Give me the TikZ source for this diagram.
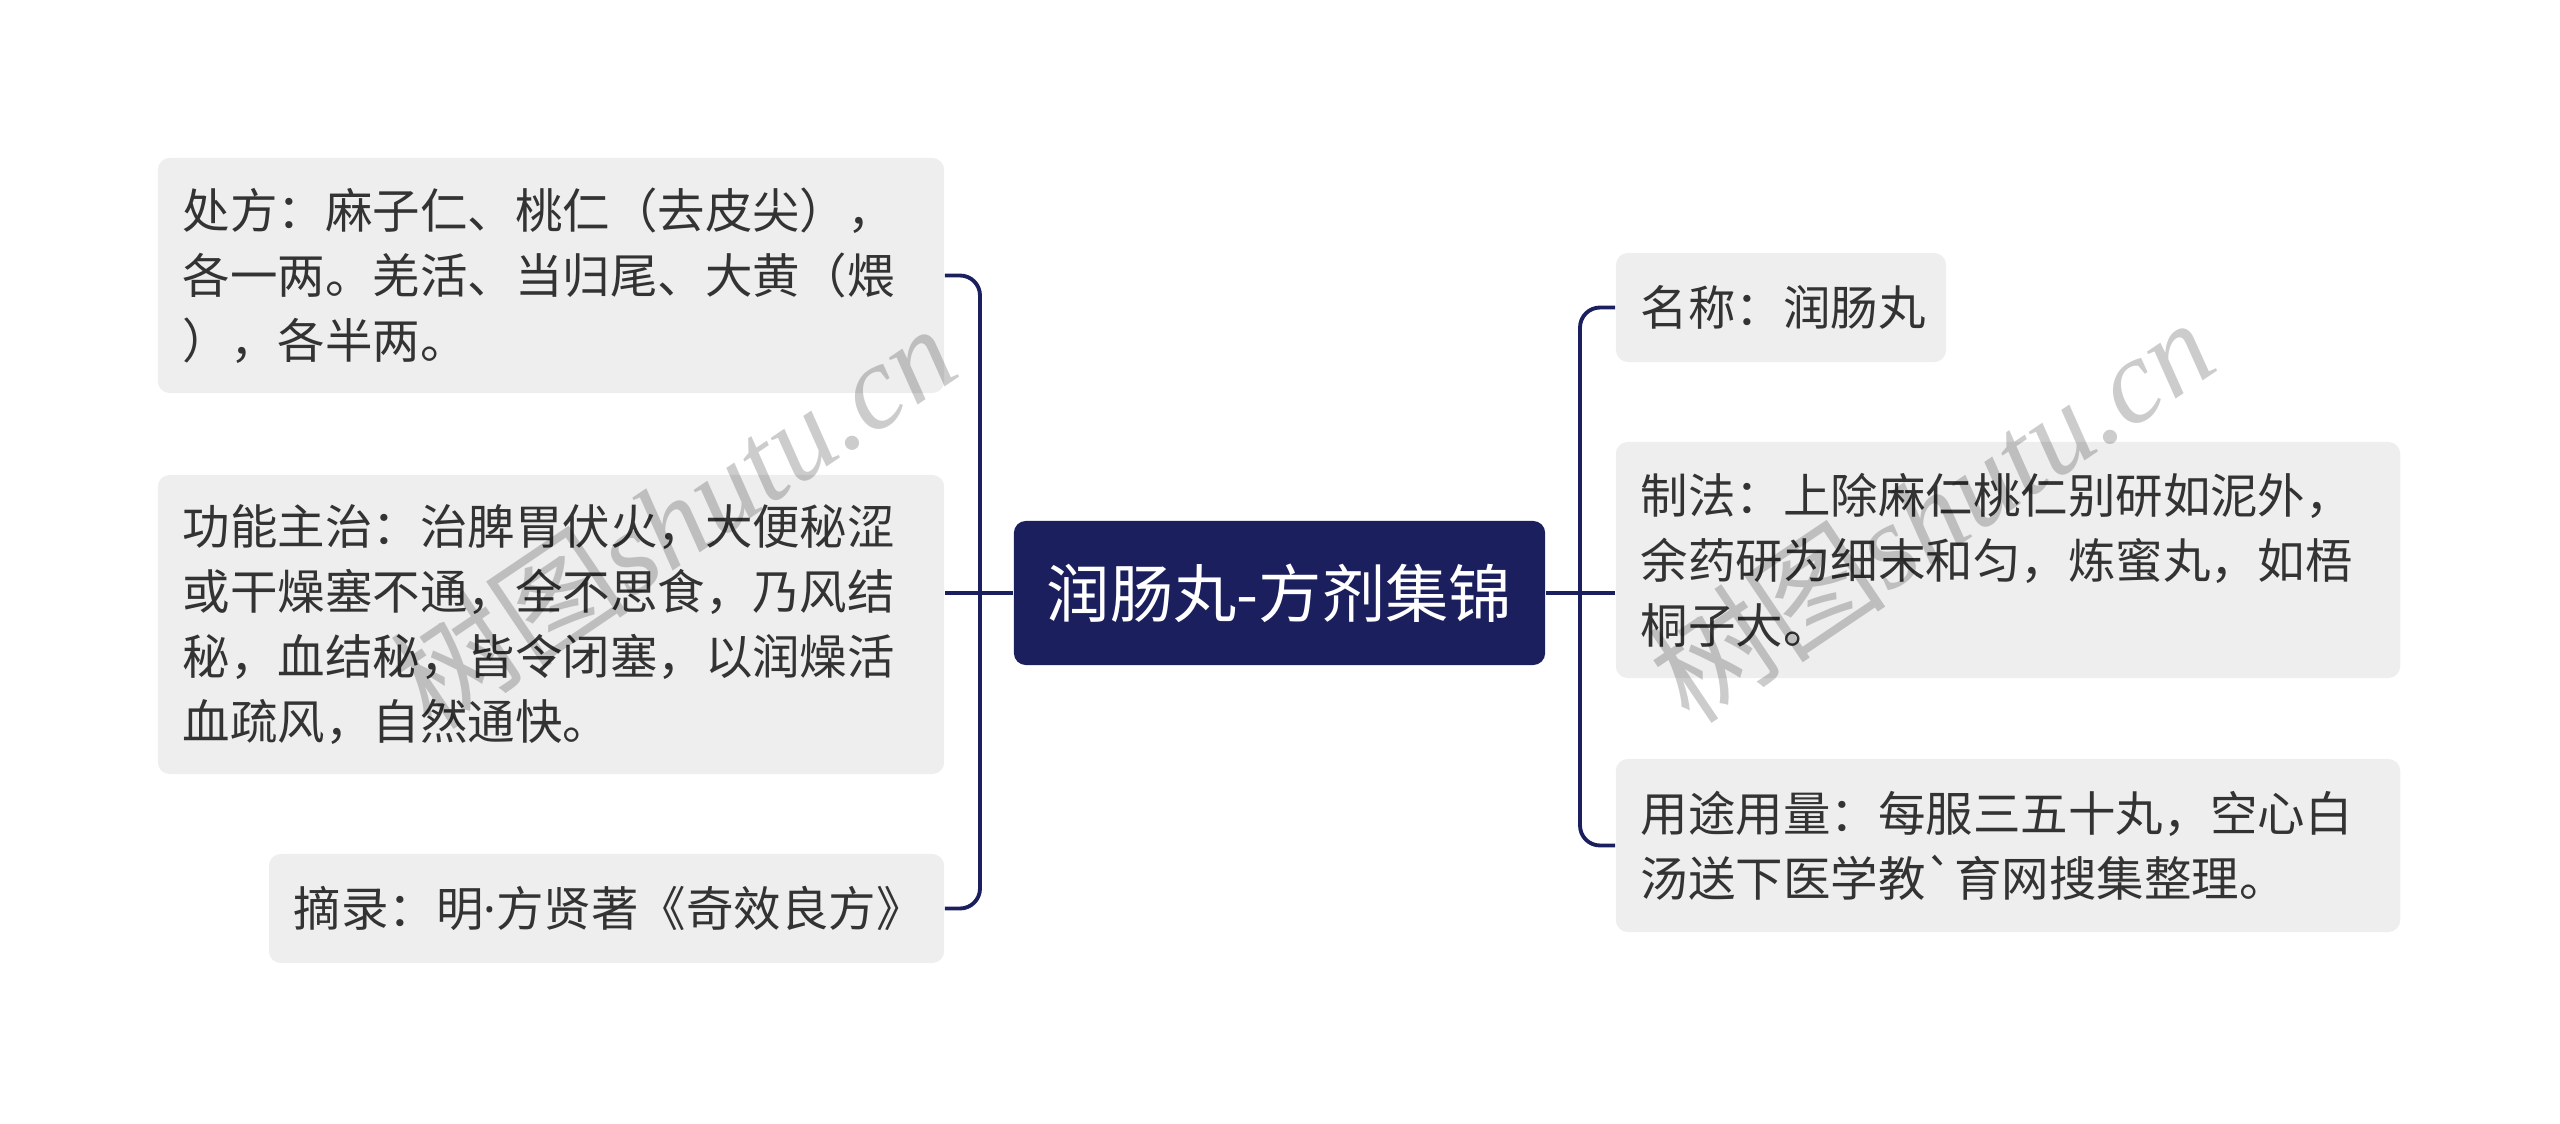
\documentclass[tikz,border=0pt]{standalone}
\usepackage{fontspec}
\setmainfont{Noto Sans CJK SC}
\newfontfamily\wmfont{Liberation Serif}
\newfontfamily\latinfont{Noto Sans}
\definecolor{navy}{RGB}{27,31,94}
\definecolor{boxgray}{RGB}{238,238,238}
\definecolor{txt}{RGB}{51,51,51}

\begin{document}
\begin{tikzpicture}[x=0.01cm, y=-0.01cm,
    topic/.style={fill=navy, text=white, rounded corners=0.12cm, minimum width=5.31cm, minimum height=1.44cm, font=\fontsize{18pt}{22pt}\selectfont},
    leaf/.style={fill=boxgray, text=txt, rounded corners=0.12cm, align=left, inner xsep=0.25cm, inner ysep=0pt, font=\fontsize{13.5pt}{18.5pt}\selectfont},
    link/.style={draw=navy, line width=1.1pt, rounded corners=0.2cm},
    wmark/.style={black, opacity=0.2, font=\fontsize{34pt}{34pt}\selectfont}]
        \useasboundingbox (0,0) rectangle (2560,1124);

        \node[topic] (root) at (1279.5,593) {润肠丸-方剂集锦};

        % left side
        \node[leaf, text width=7.36cm, minimum height=2.35cm] (l1) at (551,275.5)
            {处方：麻子仁、桃仁（去皮尖），\\各一两。羌活、当归尾、大黄（煨\\），各半两。};
        \node[leaf, text width=7.36cm, minimum height=2.99cm] (l2) at (551,624.5)
            {功能主治：治脾胃伏火，大便秘涩\\或干燥塞不通，全不思食，乃风结\\秘，血结秘，皆令闭塞，以润燥活\\血疏风，自然通快。};
        \node[leaf, text width=6.25cm, minimum height=1.09cm] (l3) at (606.5,908.5)
            {摘录：明{\latinfont ·}方贤著《奇效良方》};

        % right side
        \node[leaf, text width=2.80cm, minimum height=1.09cm] (r1) at (1781,307.5)
            {名称：润肠丸};
        \node[leaf, text width=7.34cm, minimum height=2.36cm] (r2) at (2008,560)
            {制法：上除麻仁桃仁别研如泥外，\\余药研为细末和匀，炼蜜丸，如梧\\桐子大。};
        \node[leaf, text width=7.34cm, minimum height=1.73cm] (r3) at (2008,845.5)
            {用途用量：每服三五十丸，空心白\\汤送下医学教\textasciigrave 育网搜集整理。};

        \coordinate (lj) at (980,593);
        \coordinate (rj) at (1580,593);

        \draw[link] (root.west) -- (l2.east |- root.west);
        \draw[link] (l1.east) -| (lj) |- (l3.east);
        \draw[link] (root.east) -- (r2.west |- root.east);
        \draw[link] (r1.west) -| (rj) |- (r3.west);

        % watermark
        \node[wmark, rotate=34] (wm1) at (673,516) {树图{\wmfont\itshape shutu.cn}};
        \node[wmark, rotate=34] (wm2) at (1931,510) {树图{\wmfont\itshape shutu.cn}};
\end{tikzpicture}
\end{document}
